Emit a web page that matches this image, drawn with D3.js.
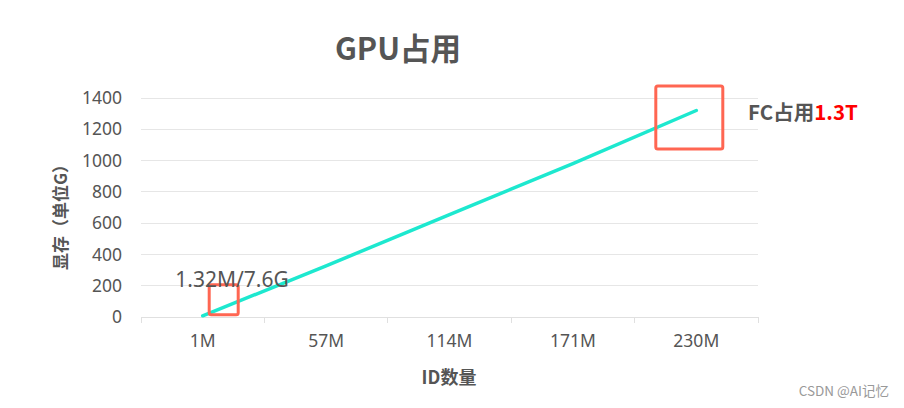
<!DOCTYPE html>
<html><head><meta charset="utf-8">
<script src="https://cdn.jsdelivr.net/npm/d3@7"></script>
<style>
html,body{margin:0;padding:0;background:#fff;}
svg{display:block;font-family:"Noto Sans","Noto Sans CJK SC",sans-serif;}
</style></head>
<body><svg id="c" width="904" height="408"></svg>
<script>
const categories = ["1M","57M","114M","171M","230M"];
const values = [7.6, 327, 654, 981, 1320];
const yTicks = [0,200,400,600,800,1000,1200,1400];
const title = "GPU占用";
const xTitle = "ID数量";
const yTitle = "显存（单位G）";
const noteSmall = "1.32M/7.6G";
const noteBigPrefix = "FC占用";
const noteBigValue = "1.3T";

const svg = d3.select("#c");
const L = 141, R = 758, T = 98, B = 317;
const x = d3.scaleBand().domain(categories).range([L, R]);
const y = d3.scaleLinear().domain([0, 1400]).range([B, T]);
const cx = d => x(d) + x.bandwidth()/2;

// grid
svg.append("g").selectAll("line").data(yTicks.filter(t=>t>0)).join("line")
  .attr("x1", L).attr("x2", R).attr("y1", d=>y(d)).attr("y2", d=>y(d))
  .attr("stroke", "#e6e6e6").attr("stroke-width", 1).attr("shape-rendering","crispEdges");

// y tick labels
svg.append("g").selectAll("text").data(yTicks).join("text")
  .attr("x", 122).attr("y", d=>y(d)).attr("dy", "0.35em")
  .attr("text-anchor", "end").attr("font-size", 17.5).attr("fill", "#555")
  .text(d=>d);

// x axis
const xa = svg.append("g").attr("transform", `translate(0,${B})`)
  .call(d3.axisBottom(x).tickSize(0).tickPadding(18));
xa.select(".domain").attr("stroke", "#e0e0e0");
xa.selectAll("text").attr("font-size", 17.5).attr("fill", "#555")
  .attr("font-family", "'Noto Sans','Noto Sans CJK SC',sans-serif");
const bounds = categories.map(c=>x(c)).concat([R]);
svg.append("g").selectAll("line").data(bounds).join("line")
  .attr("x1", d=>d).attr("x2", d=>d).attr("y1", B).attr("y2", B+6)
  .attr("stroke", "#e0e0e0").attr("shape-rendering","crispEdges");

// line
svg.append("path").datum(values)
  .attr("d", d3.line().x((d,i)=>cx(categories[i])).y(d=>y(d)))
  .attr("fill", "none").attr("stroke", "#1de8cf").attr("stroke-width", 3.5)
  .attr("stroke-linecap", "round");

// highlight boxes
svg.append("rect").attr("x", cx(categories[0]) + 6.5).attr("y", y(values[0]) - 31)
  .attr("width", 29).attr("height", 30).attr("rx", 2)
  .attr("fill", "none").attr("stroke", "#ff6652").attr("stroke-width", 3);
svg.append("rect").attr("x", cx(categories[4]) - 40.5).attr("y", y(values[4]) - 24.5)
  .attr("width", 67).attr("height", 63).attr("rx", 2)
  .attr("fill", "none").attr("stroke", "#ff6652").attr("stroke-width", 3);

// annotations
svg.append("text").attr("x", 232).attr("y", 287).attr("text-anchor", "middle")
  .attr("font-size", 21).attr("fill", "#555").text(noteSmall);
const fc = svg.append("text").attr("x", 748).attr("y", 120)
  .attr("font-size", 20.5).attr("font-weight", "bold")
  .attr("font-family", "'Noto Sans CJK SC',sans-serif");
fc.append("tspan").attr("fill", "#555").text(noteBigPrefix);
fc.append("tspan").attr("fill", "#ff0000").text(noteBigValue);

// titles
svg.append("text").attr("x", 398).attr("y", 60).attr("text-anchor", "middle")
  .attr("font-size", 30.5).attr("font-weight", "bold").attr("fill", "#555")
  .attr("font-family", "'Noto Sans CJK SC',sans-serif").text(title);
svg.append("text").attr("x", 449).attr("y", 384).attr("text-anchor", "middle")
  .attr("font-size", 18).attr("font-weight", "bold").attr("fill", "#555")
  .attr("font-family", "'Noto Sans CJK SC',sans-serif").text(xTitle);
svg.append("text").attr("transform", "translate(67,213) rotate(-90)").attr("text-anchor", "middle")
  .attr("font-size", 17).attr("font-weight", "bold").attr("fill", "#555")
  .attr("font-family", "'Noto Sans CJK SC',sans-serif").text(yTitle);

// watermark
svg.append("text").attr("x", 889).attr("y", 396).attr("text-anchor", "end")
  .attr("font-size", 13.5).attr("fill", "#999")
  .attr("font-family", "'Noto Sans CJK SC',sans-serif").text("CSDN @AI记忆");
</script></body></html>
